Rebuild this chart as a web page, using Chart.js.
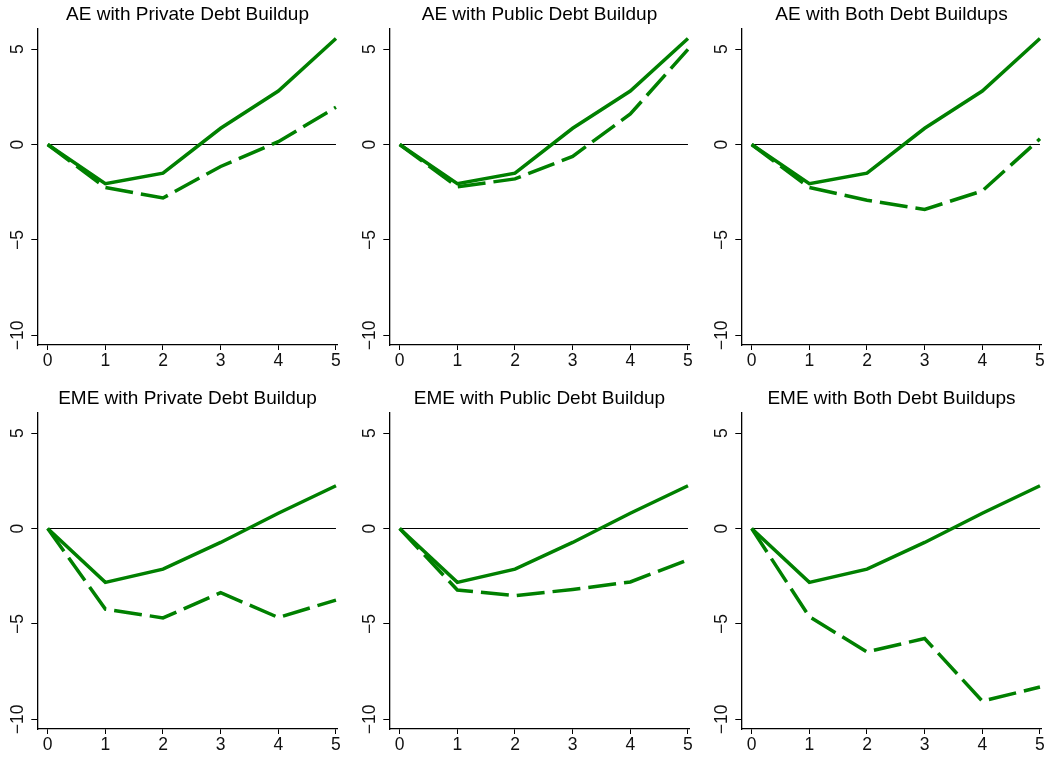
<!DOCTYPE html>
<html>
<head>
<meta charset="utf-8">
<script src="https://cdn.jsdelivr.net/npm/chart.js@4/dist/chart.umd.min.js"></script>
<style>
  html, body { margin: 0; padding: 0; background: #fff; overflow: hidden; }
  #wrap { position: relative; width: 1047px; height: 757px; }
  canvas { position: absolute; }
</style>
</head>
<body>
<div id="wrap"></div>
<script>
// horizon (years) and responses
const horizon = [0, 1, 2, 3, 4, 5];
const xTicks = [0, 1, 2, 3, 4, 5];
const yTicks = [-10, -5, 0, 5];

const aeBaseline  = [0, -2.05, -1.5, 0.85, 2.8, 5.55];
const aePrivate   = [0, -2.25, -2.8, -1.15, 0.15, 1.95];
const aePublic    = [0, -2.22, -1.8, -0.62, 1.6, 4.98];
const aeBoth      = [0, -2.25, -2.92, -3.4, -2.43, 0.3];

const emeBaseline = [0, -2.82, -2.13, -0.73, 0.8, 2.24];
const emePrivate  = [0, -4.22, -4.68, -3.36, -4.66, -3.75];
const emePublic   = [0, -3.22, -3.52, -3.19, -2.8, -1.64];
const emeBoth     = [0, -4.62, -6.46, -5.76, -9.04, -8.3];

const titles = [
  'AE with Private Debt Buildup', 'AE with Public Debt Buildup', 'AE with Both Debt Buildups',
  'EME with Private Debt Buildup', 'EME with Public Debt Buildup', 'EME with Both Debt Buildups'
];
const baselines = [aeBaseline, aeBaseline, aeBaseline, emeBaseline, emeBaseline, emeBaseline];
const scenarios = [aePrivate, aePublic, aeBoth, emePrivate, emePublic, emeBoth];

const GREEN = '#008000';
const FONT = "'Liberation Sans', Arial, Helvetica, sans-serif";

const pts = arr => arr.map((v, i) => ({ x: horizon[i], y: v }));
const minusLabel = v => (v < 0 ? '\u2212' + Math.abs(v) : String(v));

// y labels are rotated like in Stata, so draw them ourselves from the scale
const rotatedYLabels = {
  id: 'rotatedYLabels',
  afterDraw(chart) {
    const ctx = chart.ctx;
    const ys = chart.scales.y;
    ctx.save();
    ctx.fillStyle = '#111';
    ctx.font = '17.5px ' + FONT;
    ctx.textAlign = 'center';
    ctx.textBaseline = 'middle';
    ys.ticks.forEach(t => {
      const py = ys.getPixelForValue(t.value);
      ctx.save();
      ctx.translate(18, py);
      ctx.rotate(-Math.PI / 2);
      ctx.fillText(minusLabel(t.value), 0, 0);
      ctx.restore();
    });
    ctx.restore();
  }
};

const wrap = document.getElementById('wrap');

titles.forEach((title, i) => {
  const col = i % 3, row = Math.floor(i / 3);
  const cv = document.createElement('canvas');
  cv.width = 350; cv.height = 380;
  cv.style.left = (col * 352) + 'px';
  cv.style.top = (row * 384) + 'px';
  wrap.appendChild(cv);

  new Chart(cv.getContext('2d'), {
    type: 'line',
    data: {
      datasets: [
        { data: pts(scenarios[i]), borderColor: GREEN, borderWidth: 3.5, borderDash: [28, 8],
          borderCapStyle: 'butt', pointRadius: 0, tension: 0, order: 1 },
        { data: pts(baselines[i]), borderColor: GREEN, borderWidth: 3.5,
          pointRadius: 0, tension: 0, order: 2 },
        { data: [{ x: 0, y: 0 }, { x: 5, y: 0 }], borderColor: '#000', borderWidth: 1.2,
          pointRadius: 0, order: 3 }
      ]
    },
    options: {
      responsive: false,
      animation: false,
      devicePixelRatio: 1,
      layout: { padding: { left: 0, right: 12.3, top: 0, bottom: 0 } },
      plugins: {
        legend: { display: false },
        tooltip: { enabled: false },
        title: {
          display: true, text: title, fullSize: false, color: '#000',
          font: { family: FONT, size: 19, weight: 'normal' },
          padding: { top: 3, bottom: 3.2 }
        }
      },
      scales: {
        x: {
          type: 'linear', min: -0.18, max: 5.03,
          afterBuildTicks: s => { s.ticks = xTicks.map(v => ({ value: v })); },
          afterFit: s => { s.height = 35; },
          grid: { drawOnChartArea: false, drawTicks: true, tickLength: 5, color: '#000', lineWidth: 1 },
          border: { display: true, color: '#000', width: 1.3 },
          ticks: { color: '#111', font: { family: FONT, size: 17.5 }, padding: 1, maxRotation: 0 }
        },
        y: {
          type: 'linear', min: -10.5, max: 6.05,
          afterBuildTicks: s => { s.ticks = yTicks.map(v => ({ value: v })); },
          afterFit: s => { s.width = 37.3; },
          grid: { drawOnChartArea: false, drawTicks: true, tickLength: 6, color: '#000', lineWidth: 1 },
          border: { display: true, color: '#000', width: 1.3 },
          ticks: { display: false }
        }
      }
    },
    plugins: [rotatedYLabels]
  });
});
</script>
</body>
</html>
